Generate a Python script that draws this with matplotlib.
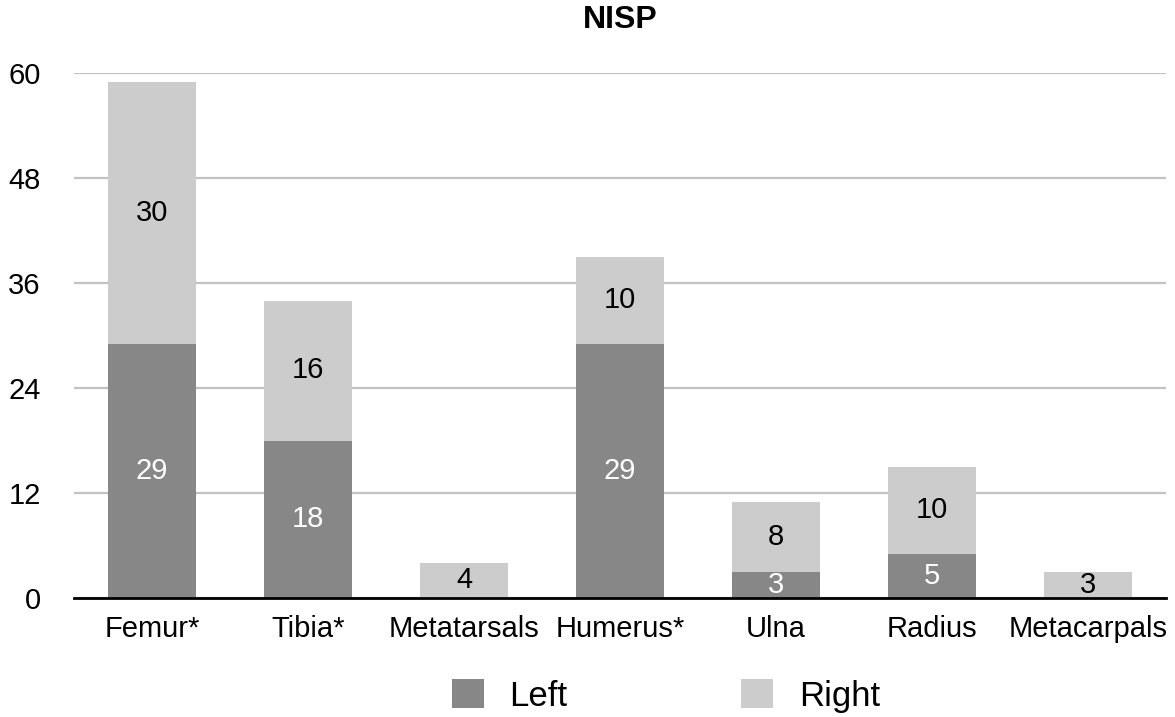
import matplotlib

matplotlib.use("Agg")
import matplotlib.pyplot as plt
import numpy as np

plt.rcParams["font.family"] = ["Liberation Sans", "DejaVu Sans"]

categories = ["Femur*", "Tibia*", "Metatarsals", "Humerus*", "Ulna", "Radius", "Metacarpals"]
left = [29, 18, 0, 29, 3, 5, 0]
right = [30, 16, 4, 10, 8, 10, 3]
yticks = [0, 12, 24, 36, 48, 60]

LEFT_C = "#878787"
RIGHT_C = "#cbcccb"

fig = plt.figure(figsize=(11.75, 7.17), dpi=100)
ax = fig.add_axes([74 / 1175, 1 - 598 / 717, 1092 / 1175, 525 / 717])

x = np.arange(len(categories))
w = 0.564
b1 = ax.bar(x, left, w, color=LEFT_C, label="Left", zorder=2)
b2 = ax.bar(x, right, w, bottom=left, color=RIGHT_C, label="Right", zorder=2)

ax.bar_label(b1, labels=[str(v) if v else "" for v in left], label_type="center",
             color="white", fontsize=21)
ax.bar_label(b2, labels=[str(v) if v else "" for v in right], label_type="center",
             color="black", fontsize=21)

ax.set_xlim(-0.5, len(categories) - 0.5)
ax.set_ylim(0, 60)
ax.set_yticks(yticks)
ax.set_xticks(x)
ax.set_xticklabels(categories)
ax.tick_params(axis="both", length=0, labelsize=21)
ax.tick_params(axis="y", pad=24)
ax.tick_params(axis="x", pad=12)
ax.yaxis.grid(True, color="#c2c2c2", linewidth=1.6, zorder=0)
ax.set_axisbelow(True)
for s in ["top", "right", "left"]:
    ax.spines[s].set_visible(False)
ax.spines["bottom"].set_linewidth(2)
ax.spines["bottom"].set_color("black")
ax.spines["bottom"].set_zorder(3)

fig.text(620 / 1175, 1 - 20 / 717, "NISP", ha="center", va="center",
         fontsize=23, fontweight="bold")

fig.legend(handles=[b1, b2], labels=["Left", "Right"], loc="center",
           bbox_to_anchor=(666 / 1175, 1 - 696 / 717), ncol=2, frameon=False,
           fontsize=25, handlelength=0.92, handleheight=0.92, handletextpad=0.75,
           columnspacing=5.0, borderpad=0)

fig.savefig("out.png", dpi=100)
